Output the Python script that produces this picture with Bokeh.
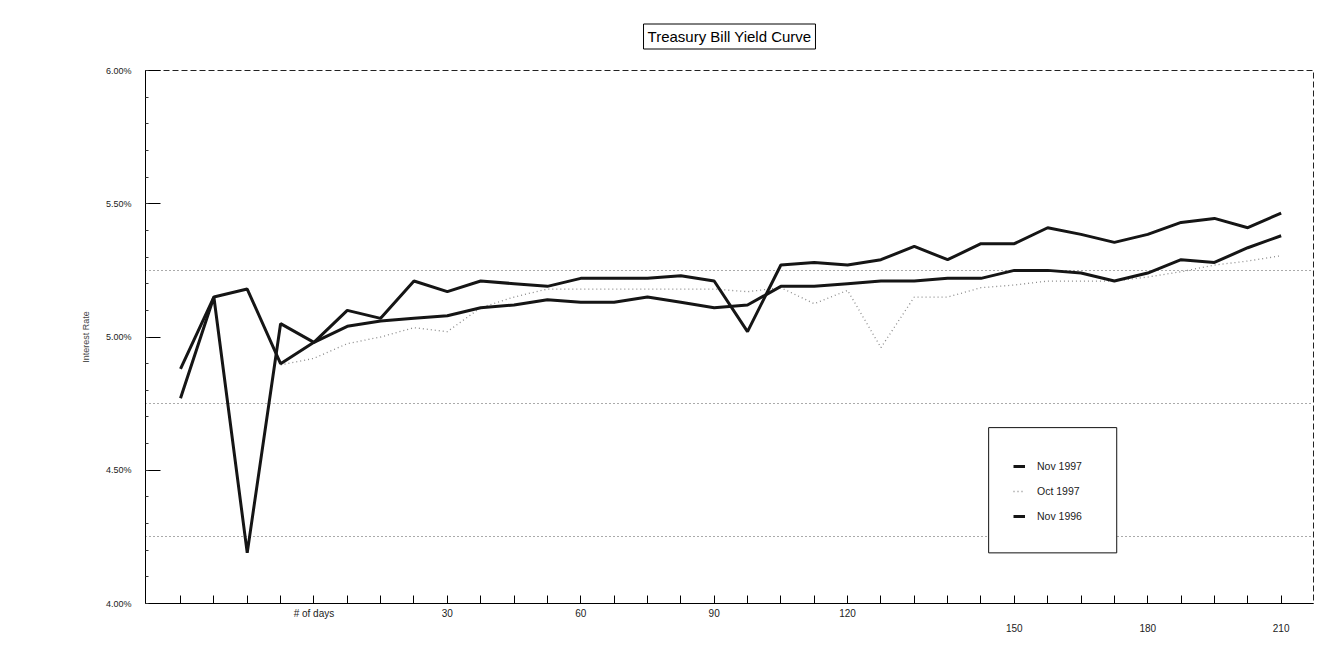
import math
from bokeh.plotting import figure
from bokeh.models import (Range1d, FixedTicker, LinearAxis, Legend, LegendItem,
                          BoxAnnotation, PrintfTickFormatter, Grid, ColumnDataSource)
from bokeh.embed import file_html
from bokeh.resources import INLINE

nan = float("nan")

# ---- data (category index = position along the "# of days" axis) ----
day_index = list(range(34))
upper_tick_labels = ["", "", "", "", "# of days", "", "", "", "30", "", "", "", "60", "", "", "", "90",
                     "", "", "", "120", "", "", "", "", "", "", "", "", "", "", "", "", ""]
lower_tick_labels = ["", "", "", "", "", "", "", "", "", "", "", "", "", "", "", "", "",
                     "", "", "", "", "", "", "", "", "150", "", "", "", "180", "", "", "", "210"]

nov_1997 = [4.77, 5.15, 4.19, 5.05, 4.98, 5.10, 5.07, 5.21, 5.17, 5.21, 5.20, 5.19, 5.22, 5.22,
            5.22, 5.23, 5.21, 5.02, 5.27, 5.28, 5.27, 5.29, 5.34, 5.29, 5.35, 5.35, 5.41, 5.385,
            5.355, 5.385, 5.43, 5.445, 5.41, 5.465]
oct_1997 = [nan, nan, nan, 4.895, 4.92, 4.975, 5.00, 5.035, 5.02, 5.11, 5.15, 5.18, 5.18, 5.18,
            5.18, 5.18, 5.18, 5.17, 5.185, 5.125, 5.175, 4.96, 5.15, 5.15, 5.185, 5.195, 5.21, 5.21,
            5.21, 5.225, 5.245, 5.27, 5.285, 5.305]
nov_1996 = [4.88, 5.15, 5.18, 4.90, 4.98, 5.04, 5.06, 5.07, 5.08, 5.11, 5.12, 5.14, 5.13, 5.13,
            5.15, 5.13, 5.11, 5.12, 5.19, 5.19, 5.20, 5.21, 5.21, 5.22, 5.22, 5.25, 5.25, 5.24,
            5.21, 5.24, 5.29, 5.28, 5.335, 5.38]

series_names = ["Nov 1997", "Oct 1997", "Nov 1996"]
y_ticks = [4.0, 4.5, 5.0, 5.5, 6.0]
grid_levels = [4.25, 4.75, 5.25]
title_text = "Treasury Bill Yield Curve"
y_title = "Interest Rate"

FONT = "Liberation Sans"

p = figure(width=1314, height=634, output_backend="svg", toolbar_location=None,
           x_range=Range1d(-1.05, 33.97), y_range=Range1d(4.0, 6.0),
           x_axis_type=None, y_axis_type=None,
           min_border_left=145, min_border_right=1, min_border_top=70, min_border_bottom=31)
p.outline_line_color = "#222222"
p.outline_line_dash = "6 3"
p.outline_line_width = 1
p.background_fill_color = "white"
p.border_fill_color = "white"

# title in a framed box
p.title.text = title_text
p.title.align = "center"
p.title.text_font = FONT
p.title.text_font_size = "15px"
p.title.text_font_style = "normal"
p.title.text_color = "black"
p.title.border_line_color = "black"
p.title.border_line_width = 1
p.title.background_fill_color = "white"
p.title.padding = 4
p.title.standoff = 43

# grid (dotted, half-way levels)
p.add_layout(Grid(dimension=1, ticker=FixedTicker(ticks=grid_levels),
                  grid_line_color="#555555", grid_line_dash="1 3", grid_line_width=1))

# y axis
minor = [round(4.0 + 0.1 * i, 2) for i in range(21)]
yaxis = LinearAxis(ticker=FixedTicker(ticks=y_ticks, minor_ticks=minor),
                   formatter=PrintfTickFormatter(format="%.2f%%"),
                   axis_label=y_title, axis_label_text_font=FONT, axis_label_text_font_size="9px",
                   axis_label_text_font_style="normal", axis_label_text_color="#444444",
                   axis_label_standoff=12,
                   major_label_text_font=FONT, major_label_text_font_size="9px",
                   major_label_text_color="#222222", major_label_standoff=14,
                   major_tick_in=15, major_tick_out=0, minor_tick_in=3, minor_tick_out=0,
                   axis_line_color="black", major_tick_line_color="black",
                   minor_tick_line_color="#333333")
p.add_layout(yaxis, "left")

# x axes (upper row of labels with ticks, lower row of labels)
xaxis = LinearAxis(ticker=FixedTicker(ticks=day_index),
                   major_label_overrides={i: upper_tick_labels[i] for i in day_index},
                   major_label_text_font=FONT, major_label_text_font_size="10px",
                   major_label_text_color="#222222", major_label_standoff=4,
                   major_tick_in=8, major_tick_out=0, minor_tick_line_color=None,
                   axis_line_color="black", major_tick_line_color="black")
p.add_layout(xaxis, "below")
xaxis2 = LinearAxis(ticker=FixedTicker(ticks=day_index),
                    major_label_overrides={i: lower_tick_labels[i] for i in day_index},
                    major_label_text_font=FONT, major_label_text_font_size="10px",
                    major_label_text_color="#222222", major_label_standoff=2,
                    major_tick_in=0, major_tick_out=0, minor_tick_line_color=None,
                    axis_line_color=None, major_tick_line_color=None)
p.add_layout(xaxis2, "below")

src = ColumnDataSource(dict(x=day_index, nov97=nov_1997, oct97=oct_1997, nov96=nov_1996))
r_oct = p.line("x", "oct97", source=src, line_color="#8a8a8a", line_width=1.3, line_dash="1 3")
r_96 = p.line("x", "nov96", source=src, line_color="#151515", line_width=3)
r_97 = p.line("x", "nov97", source=src, line_color="#151515", line_width=3)

# legend frame
box = BoxAnnotation(left=24.23, right=28.07, bottom=4.19, top=4.66,
                    fill_color="white", fill_alpha=1.0, line_color="#111111", line_alpha=1.0,
                    line_width=1)
p.add_layout(box)

legend = Legend(items=[LegendItem(label=series_names[0], renderers=[r_97]),
                       LegendItem(label=series_names[1], renderers=[r_oct]),
                       LegendItem(label=series_names[2], renderers=[r_96])],
                location=(868, 78), padding=0, margin=0, spacing=7,
                label_height=18, glyph_height=18, glyph_width=12, label_standoff=12,
                border_line_alpha=0, background_fill_alpha=0,
                label_text_font=FONT, label_text_font_size="10.5px", label_text_color="#222222")
p.add_layout(legend)

open("out.html", "w").write(file_html(p, INLINE))
